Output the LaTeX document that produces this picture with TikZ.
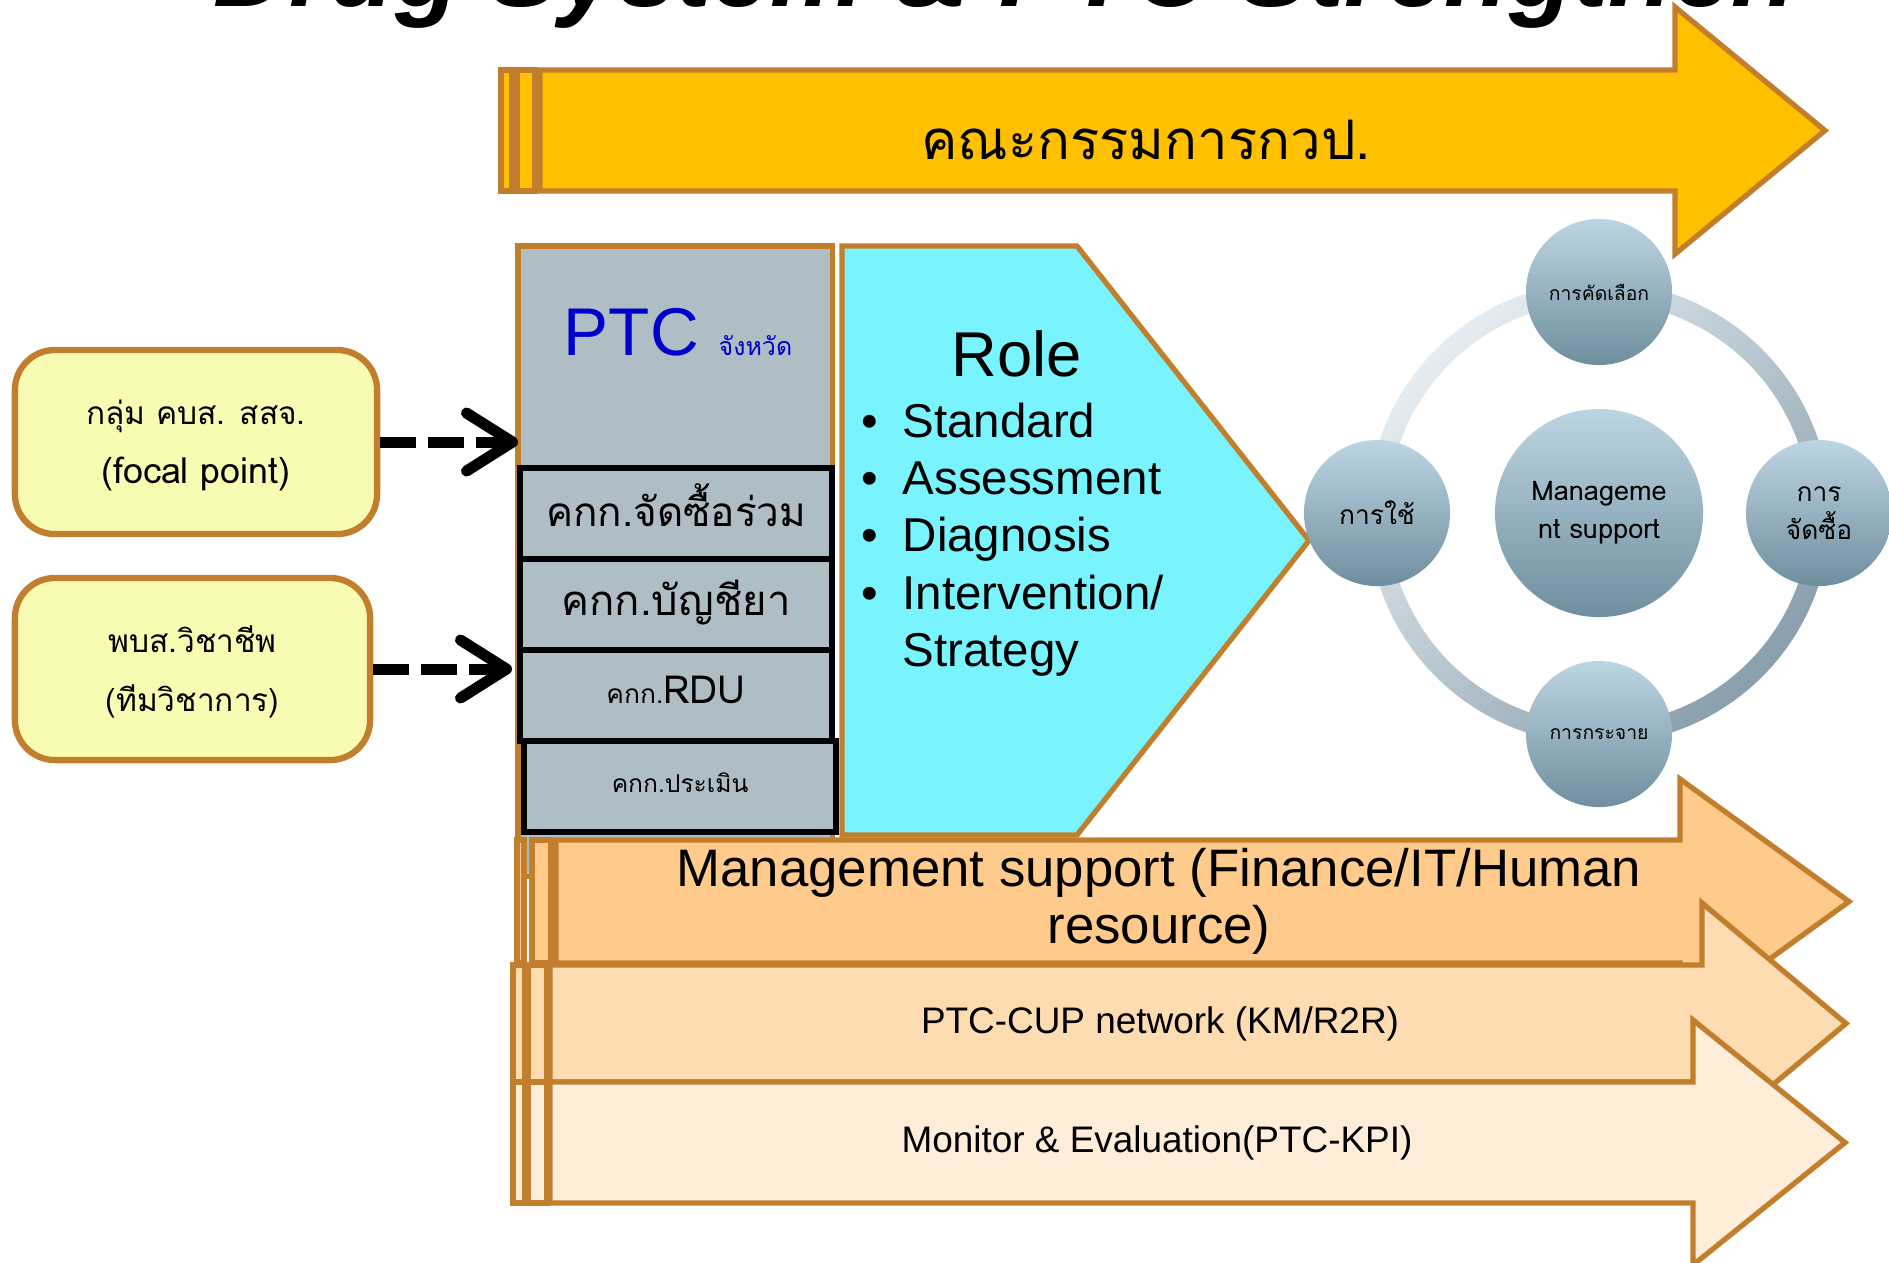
\documentclass[tikz,border=0pt]{standalone}
\usepackage{fontspec}
\setmainfont{Liberation Sans}
\newfontfamily\thaifont[Script=Thai]{Loma}
\usetikzlibrary{arrows.meta,positioning}

\definecolor{brd}{HTML}{C17F2E}
\definecolor{amber}{HTML}{FFC000}
\definecolor{ptcgray}{HTML}{AFBDC4}
\definecolor{ptcblue}{HTML}{0000CC}
\definecolor{rolecyan}{HTML}{79F3FD}
\definecolor{yel}{HTML}{F8FCB2}
\definecolor{mgA}{HTML}{FECB8C}
\definecolor{mgB}{HTML}{FDDCB1}
\definecolor{mgC}{HTML}{FEEDD8}
\definecolor{circtop}{HTML}{BDD5E2}
\definecolor{circbot}{HTML}{6F8E9E}
\definecolor{ringlt}{HTML}{E6EDF2}
\definecolor{ringdk}{HTML}{899FAC}

\begin{document}
\begin{tikzpicture}[x=0.01cm,y=-0.01cm,
    brdline/.style={draw=brd,line width=1.5pt},
    txt/.style={inner sep=0pt},
    subbox/.style={draw=black,line width=1.6pt,fill=ptcgray,minimum width=3.12cm,
                   minimum height=0.91cm,inner sep=0pt,outer sep=0pt,text depth=0pt},
    yelbox/.style={draw=brd,line width=1.8pt,fill=yel,rounded corners=0.4cm,align=center,
                   inner sep=0pt,text depth=0pt,font=\thaifont\fontsize{9}{16.8}\selectfont},
    circ/.style={circle,top color=circtop,bottom color=circbot,inner sep=0pt,align=center},
    dasharrow/.style={line width=0.11cm,dash pattern=on 0.36cm off 0.12cm,
                      -{Straight Barb[length=0.46cm,width=0.58cm,round]}}]

  \useasboundingbox (0,0) rectangle (1889,1262);

  % title (cut by the page edge)
  \node[txt,anchor=base west,font=\fontsize{30}{34}\selectfont\bfseries\itshape] (title)
      at (213,6) {Drug System \& PTC Strengthen};

  % top arrow
  \draw[brdline,fill=amber] (501,70) rectangle (512,191);
  \draw[brdline,fill=amber] (517,70) rectangle (535,191);
  \draw[brdline,fill=amber] (540,70) -- (1675,70) -- (1675,7) -- (1825,130.5)
      -- (1675,254) -- (1675,191) -- (540,191) -- cycle;
  \node[txt,anchor=base,font=\thaifont\fontsize{15.5}{18}\selectfont] (kwp) at (1146,159) {คณะกรรมการกวป.};

  % PTC column
  \node[brdline,fill=ptcgray,minimum width=3.14cm,minimum height=6.3cm,
        inner sep=0pt,outer sep=0pt,anchor=north west] (ptc) at (518,246) {};
  \node[txt,anchor=base west,text=ptcblue,font=\fontsize{19.2}{22}\selectfont] (ptclbl) at (563,355) {PTC};
  \node[txt,anchor=base west,text=ptcblue,font=\thaifont\fontsize{7.1}{9}\selectfont] (prov) at (718,355) {จังหวัด};

  \node[subbox,anchor=north west,text height=0.25cm,font=\thaifont\fontsize{11.5}{14}\selectfont] (jsr) at (520,468) {คกก.จัดซื้อร่วม};
  \node[subbox,below=0pt of jsr,text height=0.21cm,font=\thaifont\fontsize{11.9}{14}\selectfont] (bcy) {คกก.บัญชียา};
  \node[subbox,below=0pt of bcy,text height=0.15cm,font=\thaifont\fontsize{11}{13}\selectfont] (rdu) {{\fontsize{7.5}{9}\selectfont คกก.}RDU};
  \node[subbox,below=0pt of rdu,xshift=0.04cm,text height=0.12cm,font=\thaifont\fontsize{7}{9}\selectfont] (prm) {คกก.ประเมิน};

  % role pentagon
  \draw[brdline,fill=rolecyan] (842,246) -- (1077,246) -- (1309,540.5)
      -- (1077,835) -- (842,835) -- cycle;
  \node[txt,anchor=base,font=\fontsize{18}{20}\selectfont] (role) at (1017,376) {Role};
  \foreach \word [count=\i] in {Standard,Assessment,Diagnosis,Intervention/}{
    \node[txt,anchor=base,font=\fontsize{13.5}{16}\selectfont] (dot\i) at (870,380+57.3*\i) {•};
    \node[txt,anchor=base west,font=\fontsize{13.5}{16}\selectfont] (item\i) at (902,380+57.3*\i) {\word};
  }
  \node[txt,anchor=base west,font=\fontsize{13.5}{16}\selectfont] (item5) at (902,666.5) {Strategy};

  % cycle of circles
  \shade[even odd rule,top color=ringlt,bottom color=ringdk,shading angle=45]
      (1599,513) circle (2.31cm) (1599,513) circle (2.11cm);
  \node[circ,minimum size=2.08cm,font=\thaifont\fontsize{7.7}{10.8}\selectfont] (mgc) at (1599,513) {Manageme\\nt support};
  \node[circ,minimum size=1.46cm,font=\thaifont\fontsize{5.5}{7}\selectfont] (sel) at (1599,292) {การคัดเลือก};
  \node[circ,minimum size=1.46cm,font=\thaifont\fontsize{7.5}{9}\selectfont] (use) at (1377,513) {การใช้};
  \node[circ,minimum size=1.46cm,font=\thaifont\fontsize{7.5}{10.8}\selectfont] (buy) at (1819,513) {การ\\จัดซื้อ};
  \node[circ,minimum size=1.46cm,font=\thaifont\fontsize{5.5}{7}\selectfont] (dis) at (1599,734) {การกระจาย};

  % bottom arrows
  \draw[brdline,fill=mgA] (517,840) rectangle (524,963);
  \draw[brdline,fill=mgA] (532,840) rectangle (551,963);
  \draw[brdline,fill=mgA] (556,840) -- (1680,840) -- (1680,779) -- (1849,901.5)
      -- (1680,1024) -- (1680,963) -- (556,963) -- cycle;
  \node[align=center,font=\fontsize{15}{16.2}\selectfont] (mgs) at (1159,901.5)
      {Management support (Finance/IT/Human\\resource)};

  \draw[brdline,fill=mgB] (513,965) rectangle (525,1082);
  \draw[brdline,fill=mgB] (528,965) rectangle (547,1082);
  \draw[brdline,fill=mgB] (550,965) -- (1702,965) -- (1702,903) -- (1846,1023.5)
      -- (1702,1144) -- (1702,1082) -- (550,1082) -- cycle;
  \node[font=\fontsize{10.5}{12}\selectfont] (net) at (1160,1023.5) {PTC-CUP network (KM/R2R)};

  \draw[brdline,fill=mgC] (513,1082) rectangle (525,1203);
  \draw[brdline,fill=mgC] (528,1082) rectangle (547,1203);
  \draw[brdline,fill=mgC] (550,1082) -- (1693,1082) -- (1693,1020) -- (1845,1142.5)
      -- (1693,1265) -- (1693,1203) -- (550,1203) -- cycle;
  \node[font=\fontsize{10.5}{12}\selectfont] (mne) at (1157,1142.5) {Monitor \& Evaluation(PTC-KPI)};

  % yellow boxes and dashed links
  \node[yelbox,minimum width=3.62cm,minimum height=1.84cm] (foc) at (196,442)
      {กลุ่ม คบส. สสจ.\\{\fontsize{10.2}{16.8}\selectfont (focal point)}};
  \node[yelbox,minimum width=3.55cm,minimum height=1.82cm] (aca) at (192.5,669) {พบส.วิชาชีพ\\(ทีมวิชาการ)};

  \draw[dasharrow] (foc.east) -- (foc.east -| ptc.west);
  \draw[dasharrow] (aca.east) -- ([xshift=-0.06cm]aca.east -| ptc.west);

\end{tikzpicture}
\end{document}
